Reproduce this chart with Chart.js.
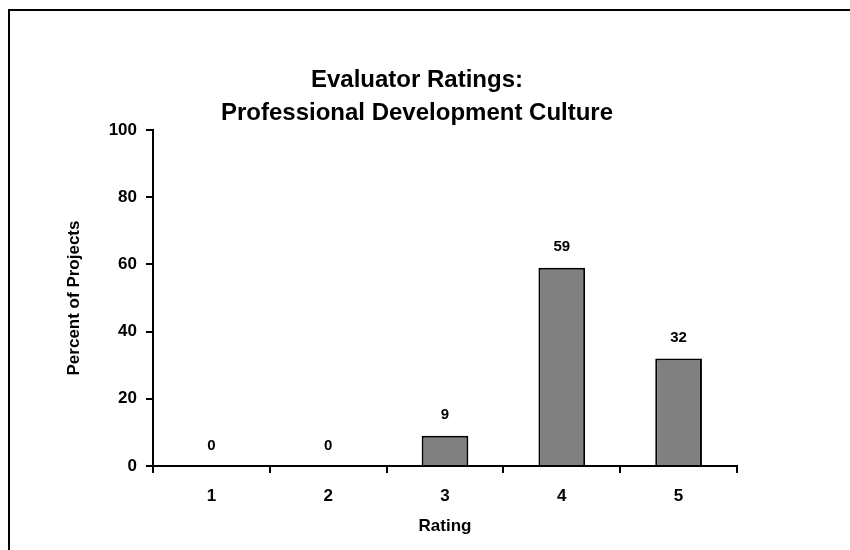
<!DOCTYPE html>
<html>
<head>
<meta charset="utf-8">
<script src="https://cdn.jsdelivr.net/npm/chart.js@4.4.1/dist/chart.umd.min.js"></script>
<style>
  html, body { margin: 0; padding: 0; background: #fff; }
  #wrap { width: 850px; height: 550px; }
</style>
</head>
<body>
<div id="wrap"><canvas id="chart" width="850" height="550"></canvas></div>
<script>
// chart data
var RATINGS = ['1', '2', '3', '4', '5'];
var PERCENTS = [0, 0, 9, 59, 32];
var Y_TICKS = [0, 20, 40, 60, 80, 100];
var TITLE_LINES = ['Evaluator Ratings:', 'Professional Development Culture'];

var FONT = '"Liberation Sans", Arial, sans-serif';

// white background + frame (top and left edges only, the rest is cut off)
var framePlugin = {
    id: 'frame',
    beforeDraw: function (chart) {
        var ctx = chart.ctx;
        ctx.save();
        ctx.fillStyle = '#fff';
        ctx.fillRect(0, 0, chart.width, chart.height);
        ctx.strokeStyle = '#000';
        ctx.lineWidth = 2;
        ctx.beginPath();
        ctx.moveTo(9, chart.height);
        ctx.lineTo(9, 10);
        ctx.lineTo(chart.width, 10);
        ctx.stroke();
        ctx.restore();
    }
};

// two line title, centred on the frame rather than the chart area
var titlePlugin = {
    id: 'titleLines',
    afterDraw: function (chart) {
        var ctx = chart.ctx;
        ctx.save();
        ctx.fillStyle = '#000';
        ctx.font = 'bold 24px ' + FONT;
        ctx.textAlign = 'center';
        ctx.textBaseline = 'middle';
        TITLE_LINES.forEach(function (line, i) {
            ctx.fillText(line, 417, 80 + i * 33);
        });
        ctx.restore();
    }
};

// value labels above the bars
var valuePlugin = {
    id: 'values',
    afterDatasetsDraw: function (chart) {
        var ctx = chart.ctx;
        var meta = chart.getDatasetMeta(0);
        ctx.save();
        ctx.fillStyle = '#000';
        ctx.font = 'bold 15px ' + FONT;
        ctx.textAlign = 'center';
        ctx.textBaseline = 'bottom';
        meta.data.forEach(function (bar, i) {
            ctx.fillText(String(PERCENTS[i]), bar.x, bar.y - 13);
        });
        ctx.restore();
    }
};

var ctx = document.getElementById('chart').getContext('2d');
new Chart(ctx, {
    type: 'bar',
    data: {
        labels: RATINGS,
        datasets: [{
            data: PERCENTS,
            backgroundColor: '#808080',
            borderColor: '#000',
            borderWidth: 2,
            borderSkipped: 'bottom',
            barPercentage: 0.4,
            categoryPercentage: 1
        }]
    },
    options: {
        responsive: false,
        animation: false,
        layout: { padding: { left: 0, right: 113, top: 130, bottom: 0 } },
        plugins: {
            legend: { display: false },
            title: { display: false },
            tooltip: { enabled: false }
        },
        scales: {
            x: {
                afterFit: function (scale) { scale.height = 84; },
                grid: {
                    offset: true,
                    drawOnChartArea: false,
                    color: '#000',
                    lineWidth: 2,
                    tickLength: 7
                },
                border: { display: true, color: '#000', width: 2 },
                ticks: {
                    color: '#000',
                    padding: 13,
                    font: { family: FONT, size: 17, weight: 'bold' }
                },
                title: {
                    display: true,
                    text: 'Rating',
                    color: '#000',
                    font: { family: FONT, size: 17, weight: 'bold' },
                    padding: { top: 0, bottom: 13 }
                }
            },
            y: {
                min: 0,
                max: 100,
                afterFit: function (scale) { scale.width = 153; },
                afterBuildTicks: function (scale) {
                    scale.ticks = Y_TICKS.map(function (v) { return { value: v }; });
                },
                grid: {
                    drawOnChartArea: false,
                    color: '#000',
                    lineWidth: 2,
                    tickLength: 7
                },
                border: { display: true, color: '#000', width: 2 },
                ticks: {
                    color: '#000',
                    padding: 9,
                    font: { family: FONT, size: 17, weight: 'bold' }
                },
                title: {
                    display: true,
                    text: 'Percent of Projects',
                    color: '#000',
                    font: { family: FONT, size: 17, weight: 'bold' },
                    padding: { top: 64, bottom: 0 }
                }
            }
        }
    },
    plugins: [framePlugin, titlePlugin, valuePlugin]
});
</script>
</body>
</html>
